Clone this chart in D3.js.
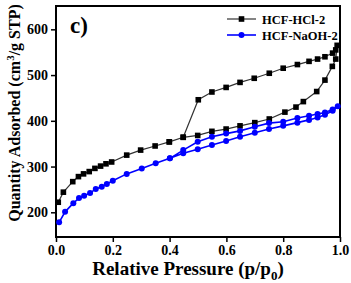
<!DOCTYPE html>
<html>
<head>
<meta charset="utf-8">
<script src="https://cdn.jsdelivr.net/npm/d3@7"></script>
<style>
  body { margin: 0; background: #fff; }
  svg { display: block; }
</style>
</head>
<body>
<svg id="chart" width="351" height="283"></svg>
<script>
// HCF-HCl-2: adsorption then desorption branch (one continuous series)
const hclP = [0.008, 0.026, 0.059, 0.079, 0.097, 0.117, 0.137, 0.157, 0.176, 0.196, 0.249, 0.298, 0.349, 0.399, 0.448,
  0.499, 0.549, 0.599, 0.648, 0.700, 0.751, 0.806, 0.845, 0.871, 0.918, 0.947, 0.973, 0.985, 0.990,
  0.985, 0.974, 0.947, 0.921, 0.891, 0.850, 0.800, 0.751, 0.698, 0.648, 0.599, 0.549, 0.501, 0.448, 0.399];
const hclV = [222, 244, 267, 278, 284, 289, 296, 301, 306, 310, 325, 336, 345, 354, 364,
  368, 377, 382, 389, 396, 404, 419, 430, 442, 464, 489, 519, 535, 565,
  555, 548, 540, 535, 530, 523, 515, 504, 493, 484, 473, 463, 446, 364, 354];

// HCF-NaOH-2
const naohP = [0.011, 0.032, 0.061, 0.081, 0.099, 0.120, 0.140, 0.161, 0.179, 0.200, 0.249, 0.302, 0.351, 0.401, 0.448,
  0.499, 0.549, 0.599, 0.648, 0.700, 0.750, 0.800, 0.850, 0.891, 0.921, 0.947, 0.974, 0.992,
  0.974, 0.947, 0.921, 0.891, 0.850, 0.800, 0.750, 0.700, 0.648, 0.599, 0.549, 0.499, 0.448, 0.401];
const naohV = [178, 201, 220, 231, 236, 242, 251, 256, 262, 269, 284, 296, 307, 318, 329,
  338, 347, 356, 365, 374, 382, 389, 396, 402, 407, 413, 422, 432,
  425, 418, 415, 411, 406, 398, 395, 387, 378, 372, 365, 354, 336, 318];

const xTicks = [0, 0.2, 0.4, 0.6, 0.8, 1.0];
const yTicks = [200, 300, 400, 500, 600];
const seriesNames = ["HCF-HCl-2", "HCF-NaOH-2"];

const svg = d3.select("#chart");
const margin = { top: 6, right: 11, bottom: 46, left: 56 };
const w = 351 - margin.left - margin.right;
const h = 283 - margin.top - margin.bottom;
const font = "'Liberation Serif', 'Times New Roman', serif";

const g = svg.append("g").attr("transform", `translate(${margin.left},${margin.top})`);

const x = d3.scaleLinear().domain([0, 1]).range([0, w]);
const y = d3.scaleLinear().domain([146, 651]).range([h, 0]);

// axes
const xAxis = g.append("g").attr("transform", `translate(0,${h})`)
  .call(d3.axisBottom(x).tickValues(xTicks).tickFormat(d3.format(".1f")).tickSize(5).tickPadding(3));
const yAxis = g.append("g")
  .call(d3.axisLeft(y).tickValues(yTicks).tickSize(5).tickPadding(3));
[xAxis, yAxis].forEach(a => {
  a.selectAll("text").attr("fill", "#000").attr("font-family", font)
    .attr("font-size", 14).attr("font-weight", "bold");
  a.selectAll(".tick line").attr("stroke", "#000").attr("stroke-width", 1.5);
  a.select(".domain").remove();
});

// frame
g.append("rect").attr("x", 0).attr("y", 0).attr("width", w).attr("height", h)
  .attr("fill", "none").attr("stroke", "#000").attr("stroke-width", 2);

const line = d3.line().x(d => x(d[0])).y(d => y(d[1]));
const hcl = hclP.map((p, i) => [p, hclV[i]]);
const naoh = naohP.map((p, i) => [p, naohV[i]]);

const plot = g.append("g");
plot.append("path").datum(hcl).attr("d", line)
  .attr("fill", "none").attr("stroke", "#333").attr("stroke-width", 1.2);
plot.selectAll(".sq").data(hcl).enter().append("rect")
  .attr("x", d => x(d[0]) - 2.8).attr("y", d => y(d[1]) - 2.8)
  .attr("width", 5.6).attr("height", 5.6).attr("fill", "#000");

plot.append("path").datum(naoh).attr("d", line)
  .attr("fill", "none").attr("stroke", "#0000ff").attr("stroke-width", 1.6);
plot.selectAll(".ci").data(naoh).enter().append("circle")
  .attr("cx", d => x(d[0])).attr("cy", d => y(d[1])).attr("r", 3)
  .attr("fill", "#0000ff");

// legend
const leg = g.append("g").attr("transform", `translate(${227 - margin.left},${19 - margin.top})`);
leg.append("line").attr("x1", 0).attr("x2", 29).attr("y1", 0).attr("y2", 0)
  .attr("stroke", "#333").attr("stroke-width", 1.2);
leg.append("rect").attr("x", 14.5 - 2.8).attr("y", -2.8).attr("width", 5.6).attr("height", 5.6).attr("fill", "#000");
leg.append("line").attr("x1", 0).attr("x2", 29).attr("y1", 16).attr("y2", 16)
  .attr("stroke", "#0000ff").attr("stroke-width", 1.6);
leg.append("circle").attr("cx", 14.5).attr("cy", 16).attr("r", 3).attr("fill", "#0000ff");
leg.selectAll("text").data(seriesNames).enter().append("text")
  .attr("x", 35).attr("y", (d, i) => i * 16 + 4.5)
  .attr("font-family", font).attr("font-size", 12.5).attr("font-weight", "bold")
  .text(d => d);

// panel label
g.append("text").attr("x", 14).attr("y", 27)
  .attr("font-family", font).attr("font-size", 23).attr("font-weight", "bold").text("c)");

// x title
const xt = svg.append("text").attr("x", 188).attr("y", 275)
  .attr("text-anchor", "middle").attr("font-family", font).attr("font-size", 19).attr("font-weight", "bold");
xt.append("tspan").text("Relative Pressure (p/p");
xt.append("tspan").attr("font-size", 13).attr("dy", 5).text("0");
xt.append("tspan").attr("dy", -5).text(")");

// y title
const yt = svg.append("text").attr("transform", `translate(20,113) rotate(-90)`)
  .attr("text-anchor", "middle").attr("font-family", font).attr("font-size", 16).attr("font-weight", "bold");
yt.append("tspan").text("Quantity Adsorbed (cm");
yt.append("tspan").attr("font-size", 11).attr("dy", -6).text("3");
yt.append("tspan").attr("dy", 6).text("/g STP)");
</script>
</body>
</html>
